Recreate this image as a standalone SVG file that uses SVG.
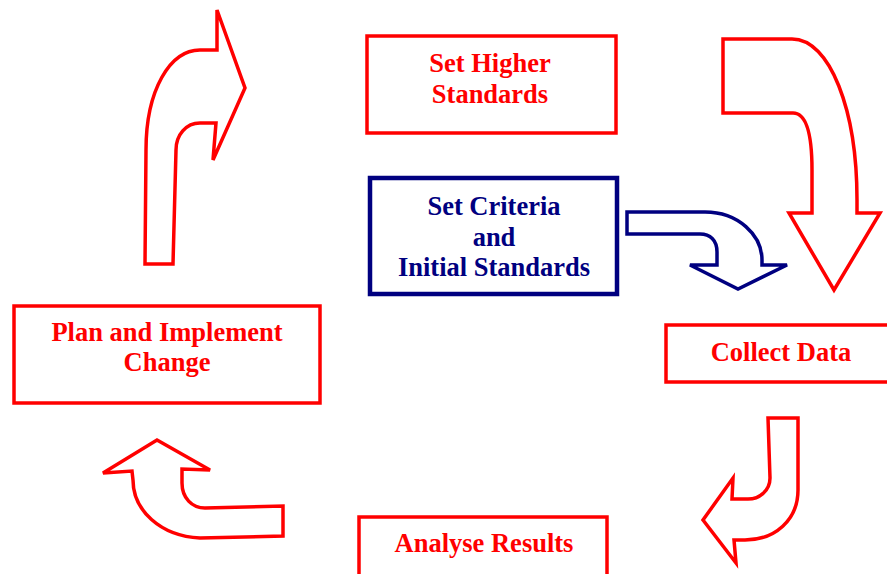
<svg xmlns="http://www.w3.org/2000/svg" width="887" height="574" viewBox="0 0 887 574">
  <style>
    .box { fill: #ffffff; stroke: #ff0000; stroke-width: 3.5; }
    .box-blue { fill: #ffffff; stroke: #000080; stroke-width: 4.5; }
    .arrow { fill: #ffffff; stroke: #ff0000; stroke-width: 3.5; stroke-linejoin: miter; }
    .arrow-blue { fill: #ffffff; stroke: #000080; stroke-width: 3.5; stroke-linejoin: miter; }
    .label { font-family: "Liberation Serif", "Times New Roman", serif; font-weight: bold; font-size: 26.5px; text-anchor: middle; fill: #ff0000; }
    .label-blue { fill: #000080; }
  </style>
  <rect width="887" height="574" fill="#ffffff"/>

  <!-- connectors: block arrows of the improvement cycle -->
  <g id="connectors">
    <!-- up and right, towards Set Higher Standards -->
    <path class="arrow" d="M217,10 L245,88 L213,160 L216,123 L200,123 C186,123 176,135 176,150 L173,264 L145,264 L146,150 C146,90 170,50 200,50 L217,50 Z"/>
    <!-- right and down, towards Collect Data -->
    <path class="arrow" d="M723,39 L792,39 C830,39 857,110 857,200 L857,213 L880,213 L834,290 L789,213 L812,213 L812,170 C812,130 805,113 793,113 L723,113 Z"/>
    <!-- from Set Criteria into the cycle -->
    <path class="arrow-blue" d="M627,212 L705,212 C738,212 762,235 762,260 L762,265 L787,265 L738,289 L690,265 L717,265 L717,252 C717,240 710,234 700,234 L627,234 Z"/>
    <!-- down and left, towards Analyse Results -->
    <path class="arrow" d="M768,418 L798,418 L798,490 C798,520 775,540 745,540 L734,540 L736,563 L703,520 L733,478 L732,499 L748,499 C760,499 770,490 770,478 Z"/>
    <!-- left and up, towards Plan and Implement Change -->
    <path class="arrow" d="M157,440 L210,470 L182,469 L182,483 C182,498 192,508 205,508 L283,506 L283,536 L200,538 C160,536 133,510 133,480 L132,471 L103,473 Z"/>
  </g>

  <g id="set-higher-standards">
    <rect class="box" x="367" y="36" width="249" height="97"/>
    <text class="label" x="490" y="72">Set Higher</text>
    <text class="label" x="490" y="103">Standards</text>
  </g>

  <g id="set-criteria">
    <rect class="box-blue" x="370" y="178" width="247" height="116"/>
    <text class="label label-blue" x="494" y="215">Set Criteria</text>
    <text class="label label-blue" x="494" y="246">and</text>
    <text class="label label-blue" x="494" y="276">Initial Standards</text>
  </g>

  <g id="plan-and-implement-change">
    <rect class="box" x="14" y="306" width="306" height="97"/>
    <text class="label" x="167" y="341">Plan and Implement</text>
    <text class="label" x="167" y="371">Change</text>
  </g>

  <g id="collect-data">
    <rect class="box" x="666" y="325" width="240" height="57"/>
    <text class="label" x="781" y="361">Collect Data</text>
  </g>

  <g id="analyse-results">
    <rect class="box" x="359" y="517" width="248" height="80"/>
    <text class="label" x="484" y="552">Analyse Results</text>
  </g>
</svg>
